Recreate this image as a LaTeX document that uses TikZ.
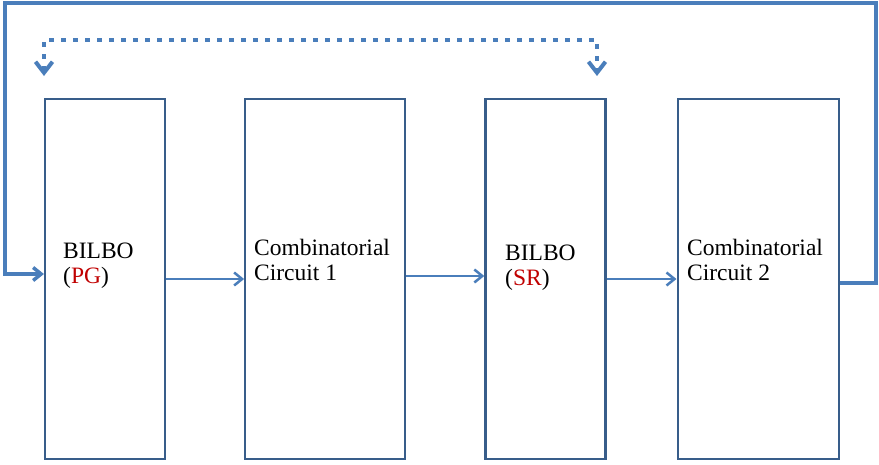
\documentclass[tikz,border=0pt]{standalone}
\usepackage{fontspec}
\setmainfont{Liberation Serif}
\usetikzlibrary{arrows.meta,positioning}
\definecolor{boxblue}{HTML}{385D8A}
\definecolor{linkblue}{HTML}{4A7EBB}
\definecolor{tagred}{HTML}{C00000}

\begin{document}
\begin{tikzpicture}[x=1pt, y=-1pt,
  blk/.style={draw=boxblue, line width=2.2pt, minimum width=#1, minimum height=360pt, inner sep=0pt},
  lbl/.style={font=\fontsize{23.5}{25}\selectfont, align=left, anchor=base west, inner sep=0pt},
  flow/.style={draw=linkblue, line width=2.5pt, -{Straight Barb[length=8pt,width=13pt]}},
  fb/.style={draw=linkblue, line width=3.5pt, -{Straight Barb[length=8pt,width=13pt]}},
  dotline/.style={draw=linkblue, line width=4pt, dash pattern=on 4.5pt off 7.5pt,
    {Straight Barb[length=11pt,width=17pt]}-{Straight Barb[length=11pt,width=17pt]}}]
\useasboundingbox (0,0) rectangle (879,464);

% the four stages
\node[blk=120pt] (b1) at (105,279) {};
\node[blk=160pt, right=78pt of b1] (b2) {};
\node[blk=120pt, right=78pt of b2] (b3) {};
\node[blk=161pt, right=70pt of b3] (b4) {};

% labels, anchored on the second line
\node[lbl] (t1) at (63,283) {BILBO\\(\textcolor{tagred}{PG})};
\node[lbl] (t2) at (254,280) {Combinatorial\\Circuit 1};
\node[lbl] (t3) at (505,285) {BILBO\\(\textcolor{tagred}{SR})};
\node[lbl] (t4) at (687,280) {Combinatorial\\Circuit 2};

% data path
\draw[flow] (b1.east) -- (b2.west);
\draw[flow] ([yshift=3pt]b2.east) -- ([yshift=3pt]b3.west);
\draw[flow] (b3.east) -- (b4.west);

% feedback round the outside
\coordinate (fbR) at (876,3);
\coordinate (fbL) at (5,3);
\draw[fb] ([yshift=-4pt]b4.east) -| (fbR) -- (fbL) |- ([yshift=5pt]b1.west);

% swap of the two BILBOs
\coordinate (s1) at (44,76);
\coordinate (s3) at (597,76);
\draw[dotline] (s1) -- ++(0,-36) -| (s3);
\end{tikzpicture}
\end{document}
